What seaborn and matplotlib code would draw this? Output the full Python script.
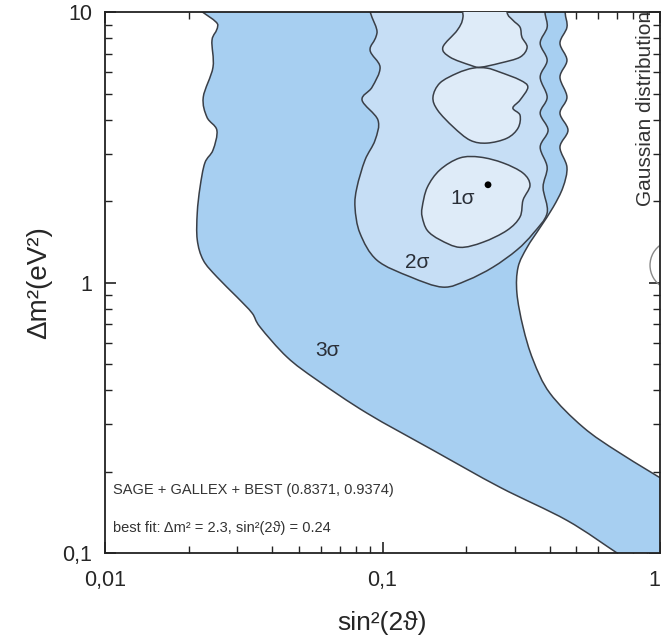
import numpy as np
import pandas as pd
import matplotlib as mpl
mpl.use("Agg")
import matplotlib.pyplot as plt
from matplotlib.patches import Arc, PathPatch
from matplotlib.path import Path
from matplotlib.ticker import FuncFormatter, LogLocator, NullFormatter
import seaborn as sns

# 3 sigma region outline (sin^2(2theta), dm^2);
# the outline runs on a little past the frame where the region is cut by it
s3_x = [0.0253, 0.0255, 0.0243, 0.0245, 0.0226, 0.0233, 0.0253, 0.0245, 0.0229, 0.0220,
        0.0215, 0.0215, 0.0226, 0.0253, 0.0299, 0.0339, 0.0362, 0.0453, 0.0581, 0.0879,
        0.152, 0.265, 0.462, 0.700, 0.80, 1.3, 1.3, 1.15, 0.718, 0.528, 0.401, 0.349,
        0.321, 0.305, 0.308, 0.332, 0.370, 0.412, 0.447, 0.462, 0.436, 0.466, 0.436,
        0.462, 0.436, 0.462, 0.436, 0.462, 0.455, 0.455]
s3_y = [12, 8.95, 7.88, 6.26, 4.85, 4.09, 3.66, 3.09, 2.77, 2.25,
        1.81, 1.44, 1.21, 1.05, 0.884, 0.771, 0.685, 0.530, 0.436, 0.329,
        0.240, 0.175, 0.132, 0.1, 0.092, 0.08, 0.17, 0.175, 0.234, 0.292, 0.390, 0.517,
        0.685, 0.915, 1.14, 1.35, 1.60, 1.90, 2.25, 2.67, 3.17, 3.66, 4.23,
        4.85, 5.75, 6.64, 7.68, 8.80, 10, 12]

# 2 sigma region outline
s2_x = [0.0996, 0.0955, 0.0902, 0.0980, 0.0917, 0.0844, 0.0963, 0.0940, 0.0865, 0.0809,
        0.0796, 0.0830, 0.0955, 0.126, 0.165, 0.202, 0.250, 0.305, 0.349, 0.392,
        0.379, 0.392, 0.370, 0.395, 0.370, 0.392, 0.370, 0.392, 0.370, 0.392, 0.385, 0.385]
s2_y = [12, 8.36, 7.24, 6.26, 5.28, 4.73, 3.99, 3.36, 2.84, 2.25,
        1.90, 1.52, 1.21, 1.05, 0.962, 1.02, 1.14, 1.32, 1.52, 1.81,
        2.25, 2.67, 3.17, 3.66, 4.23, 4.85, 5.75, 6.64, 7.68, 8.80, 10, 12]

# 1 sigma islands
s1a_x = [0.139, 0.145, 0.161, 0.190, 0.225, 0.272, 0.321, 0.340, 0.321, 0.313,
         0.281, 0.230, 0.190, 0.161, 0.145, 0.139]
s1a_y = [1.90, 2.25, 2.61, 2.89, 2.91, 2.77, 2.54, 2.29, 2.02, 1.75,
         1.56, 1.41, 1.35, 1.44, 1.56, 1.75]
s1b_x = [0.212, 0.186, 0.161, 0.152, 0.158, 0.180, 0.207, 0.238, 0.281, 0.308,
         0.313, 0.295, 0.313, 0.334, 0.313, 0.265, 0.238]
s1b_y = [6.21, 5.95, 5.47, 4.85, 4.34, 3.76, 3.36, 3.28, 3.42, 3.73,
         4.16, 4.42, 4.73, 5.28, 5.61, 6.00, 6.21]
s1c_x = [0.195, 0.195, 0.186, 0.165, 0.175, 0.207, 0.225, 0.265, 0.313, 0.332, 0.318,
         0.313, 0.295, 0.281, 0.281]
s1c_y = [12, 9.6, 8.58, 7.42, 6.82, 6.37, 6.26, 6.48, 6.82, 7.42, 8.08,
         8.80, 9.34, 10, 12]

best_fit = pd.DataFrame({"sin2": [0.24], "dm2": [2.3]})

sigma_labels = ["1σ", "2σ", "3σ"]
label_x = [0.195, 0.133, 0.0636]
label_y = [2.05, 1.19, 0.563]


def smooth_patch(xs, ys, **kw):
    # closed Catmull-Rom outline through the read points, built in log space
    p = np.column_stack([np.log10(xs), np.log10(ys)])
    n = len(p)
    verts = [p[0]]
    codes = [Path.MOVETO]
    for i in range(n):
        p0, p1, p2, p3 = p[i - 1], p[i], p[(i + 1) % n], p[(i + 2) % n]
        verts += [p1 + (p2 - p0) / 6, p2 - (p3 - p1) / 6, p2]
        codes += [Path.CURVE4] * 3
    return PathPatch(Path(10 ** np.array(verts), codes), **kw)


sns.set_style("ticks")
plt.rcParams["font.family"] = ["Liberation Sans", "DejaVu Sans"]

fig = plt.figure(figsize=(6.62, 6.41), dpi=100)
ax = fig.add_axes([0.1586, 0.1373, 0.8384, 0.8437])
ax.set_xscale("log")
ax.set_yscale("log")

edge = "#3a3f47"
ax.add_patch(smooth_patch(s3_x, s3_y, facecolor="#a7cff1", edgecolor=edge, lw=1.1, zorder=1))
ax.add_patch(smooth_patch(s2_x, s2_y, facecolor="#c6def5", edgecolor=edge, lw=1.1, zorder=2))
for xs, ys in [(s1a_x, s1a_y), (s1b_x, s1b_y), (s1c_x, s1c_y)]:
    ax.add_patch(smooth_patch(xs, ys, facecolor="#deebf8", edgecolor=edge, lw=1.1, zorder=3))

sns.scatterplot(data=best_fit, x="sin2", y="dm2", ax=ax, color="black", s=24,
                edgecolor="none", zorder=5)

for lab, lx, ly in zip(sigma_labels, label_x, label_y):
    ax.text(lx, ly, lab, fontsize=15, ha="center", va="center", color="#2a2f38", zorder=6)

ax.text(0.015, 0.116, "SAGE + GALLEX + BEST (0.8371, 0.9374)", transform=ax.transAxes,
        fontsize=10.5, va="center", color="#333333")
ax.text(0.015, 0.046, "best fit: Δm² = 2.3, sin²(2ϑ) = 0.24", transform=ax.transAxes,
        fontsize=10.5, va="center", color="#333333")

# piece of the neighbouring panel at the right edge
ax.text(0.973, 0.822, "Gaussian distribution", transform=ax.transAxes, rotation=90,
        fontsize=15, ha="center", va="center", color="#333333")
ax.add_patch(Arc((1.027, 0.532), 0.09, 0.0924, theta1=120, theta2=240,
                 transform=ax.transAxes, color="#888888", lw=1))

ax.set_xlim(0.01, 1)
ax.set_ylim(0.1, 10)
ax.set_xticks([0.01, 0.1, 1])
ax.set_yticks([0.1, 1, 10])

comma = FuncFormatter(lambda v, p: f"{v:g}".replace(".", ","))
ax.xaxis.set_major_formatter(comma)
ax.yaxis.set_major_formatter(comma)
ax.xaxis.set_minor_locator(LogLocator(subs=np.arange(2, 10)))
ax.yaxis.set_minor_locator(LogLocator(subs=np.arange(2, 10)))
ax.xaxis.set_minor_formatter(NullFormatter())
ax.yaxis.set_minor_formatter(NullFormatter())
ax.tick_params(which="both", direction="in", top=True, right=True, color="#222222")
ax.tick_params(which="major", length=8, width=1.2, labelsize=15.5)
ax.tick_params(axis="x", which="major", pad=12)
ax.tick_params(axis="y", which="major", pad=9)
ax.tick_params(which="minor", length=5, width=1)
for sp in ax.spines.values():
    sp.set_linewidth(1.3)
    sp.set_color("#222222")
ax.get_xticklabels()[-1].set_horizontalalignment("right")

ax.set_xlabel("sin²(2ϑ)", fontsize=19)
ax.set_ylabel("Δm²(eV²)", fontsize=20)
ax.xaxis.set_label_coords(0.5, -0.108)
ax.yaxis.set_label_coords(-0.095, 0.5)

fig.savefig("out.png", dpi=100)
